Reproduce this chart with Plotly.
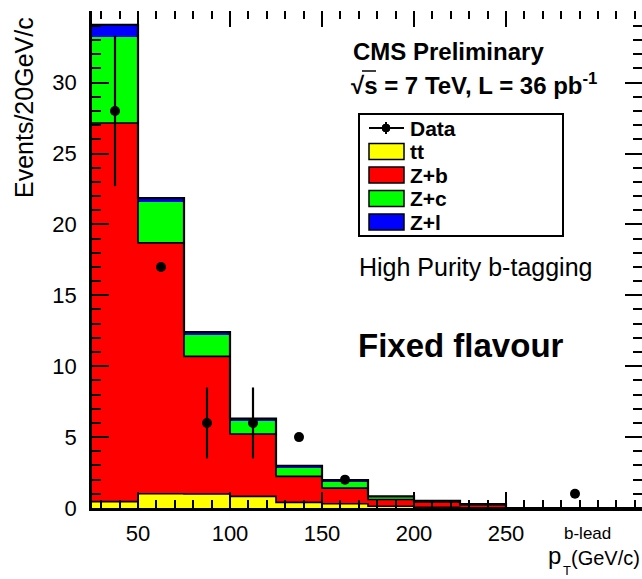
import plotly.graph_objects as go

# ---- histogram content: 12 bins of 25 GeV/c from 25 to 325 ----
bin_edges = [25, 50, 75, 100, 125, 150, 175, 200, 225, 250, 275, 300, 325]
tt_vals = [0.45, 1.00, 0.99, 0.82, 0.40, 0.30, 0.12, 0.05, 0.02, 0, 0, 0]
zb_vals = [26.7, 17.7, 9.70, 4.40, 1.83, 1.10, 0.48, 0.38, 0.22, 0, 0, 0]
zc_vals = [6.05, 2.86, 1.53, 0.93, 0.62, 0.47, 0.20, 0.05, 0.02, 0, 0, 0]
zl_vals = [0.88, 0.30, 0.19, 0.15, 0.13, 0.10, 0.02, 0.02, 0.01, 0, 0, 0]
data_vals = [28, 17, 6, 6, 5, 2, 0, 0, 0, 0, 1, 0]
data_errs = [5.3, 0, 2.5, 2.5, 0, 0, 0, 0, 0, 0, 0, 0]

component_names = ["tt", "Z+b", "Z+c", "Z+l"]
component_colors = ["#ffff00", "#ff0000", "#00ff00", "#0000ff"]
component_vals = [tt_vals, zb_vals, zc_vals, zl_vals]

x_tick_vals = [50, 100, 150, 200, 250]
x_tick_text = ["50", "100", "150", "200", "250"]

# ---- page geometry (pixels) ----
W, H = 642, 579
L, R, T, B = 92, 0, 11, 71
PX_PER_GEV = 1.84
PX_PER_EVT = 14.18
plot_w = W - L - R
plot_h = H - T - B
x_range = [25, 25 + plot_w / PX_PER_GEV]
y_range = [0, plot_h / PX_PER_EVT]


def px_x(p):
    return (p - L) / plot_w


def px_y(p):
    return (H - B - p) / plot_h


centers = [(a + b) / 2 for a, b in zip(bin_edges[:-1], bin_edges[1:])]
widths = [b - a for a, b in zip(bin_edges[:-1], bin_edges[1:])]

fig = go.Figure()

# stacked simulation
for name, color, vals in zip(component_names, component_colors, component_vals):
    fig.add_trace(go.Bar(x=centers, y=vals, width=widths, name=name,
                         marker=dict(color=color, line=dict(width=0)),
                         showlegend=False))

# black outlines: tt, tt+Z+b and the total
cum_ttzb = [a + b for a, b in zip(tt_vals, zb_vals)]
total = [a + b + c + d for a, b, c, d in zip(tt_vals, zb_vals, zc_vals, zl_vals)]
for vals, w in [(tt_vals, 1.6), (cum_ttzb, 1.6), (total, 2.2)]:
    fig.add_trace(go.Scatter(x=bin_edges, y=vals + [vals[-1]], mode="lines",
                             line=dict(color="black", width=w, shape="hv"),
                             showlegend=False, hoverinfo="skip"))

# data points (empty bins are not drawn)
dx = [c for c, v in zip(centers, data_vals) if v > 0]
dy = [v for v in data_vals if v > 0]
de = [e for e, v in zip(data_errs, data_vals) if v > 0]
fig.add_trace(go.Scatter(x=dx, y=dy, mode="markers",
                         marker=dict(color="black", size=10),
                         error_y=dict(type="data", array=de, visible=True,
                                      color="black", thickness=2.2, width=0),
                         showlegend=False))

# companion axes carrying the top and right tick marks
fig.add_trace(go.Scatter(x=[], y=[], xaxis="x2", yaxis="y2",
                         showlegend=False, hoverinfo="skip"))

font_family = "Liberation Sans, Arial, Helvetica, sans-serif"

fig.update_layout(
    width=W, height=H,
    margin=dict(l=L, r=R, t=T, b=B),
    paper_bgcolor="white", plot_bgcolor="white",
    barmode="stack", bargap=0,
    font=dict(family=font_family, color="black", size=22),
    xaxis=dict(range=x_range, tickmode="array", tickvals=x_tick_vals,
               ticktext=x_tick_text, ticks="inside", ticklen=16, tickwidth=2,
               tickcolor="black", showline=True, linecolor="black", linewidth=2.5,
               showgrid=False, zeroline=False, ticklabelstandoff=4,
               tickfont=dict(size=22),
               minor=dict(ticks="inside", dtick=10, tick0=0, ticklen=8,
                          tickwidth=2, tickcolor="black", showgrid=False)),
    yaxis=dict(range=y_range, dtick=5, tick0=0, ticks="inside", ticklen=17,
               tickwidth=2, tickcolor="black", showline=True, linecolor="black",
               linewidth=2.5, showgrid=False, zeroline=False,
               ticklabelstandoff=8, tickfont=dict(size=22),
               minor=dict(ticks="inside", dtick=1, tick0=0, ticklen=9,
                          tickwidth=2, tickcolor="black", showgrid=False)),
    xaxis2=dict(range=x_range, overlaying="x", side="top", tickmode="array",
                tickvals=x_tick_vals, ticks="inside", ticklen=16, tickwidth=2,
                tickcolor="black", showticklabels=False, showline=False,
                showgrid=False, zeroline=False,
                minor=dict(ticks="inside", dtick=10, tick0=0, ticklen=8,
                           tickwidth=2, tickcolor="black", showgrid=False)),
    yaxis2=dict(range=y_range, overlaying="y", side="right", dtick=5, tick0=0,
                ticks="inside", ticklen=17, tickwidth=2, tickcolor="black",
                showticklabels=False, showline=False, showgrid=False,
                zeroline=False,
                minor=dict(ticks="inside", dtick=1, tick0=0, ticklen=9,
                           tickwidth=2, tickcolor="black", showgrid=False)),
)

shapes = []
annotations = []


def text(x, y, s, size, bold=False, xanchor="left", yanchor="middle", angle=0):
    annotations.append(dict(
        x=px_x(x), y=px_y(y), xref="paper", yref="paper", text=s,
        showarrow=False, xanchor=xanchor, yanchor=yanchor, textangle=angle,
        borderpad=0,
        font=dict(size=size, family=font_family, color="black",
                  weight="bold" if bold else "normal")))


# header texts
text(352, 52, "CMS Preliminary", 24, bold=True)
text(350, 84, "\u221as = 7 TeV, L = 36 pb<sup>-1</sup>", 24, bold=True)
shapes.append(dict(type="line", xref="paper", yref="paper",
                   x0=px_x(362), x1=px_x(376), y0=px_y(71), y1=px_y(71),
                   line=dict(color="black", width=1.5)))
text(358, 267, "High Purity b-tagging", 25)
text(357, 345, "Fixed flavour", 33, bold=True)

# legend box
shapes.append(dict(type="rect", xref="paper", yref="paper",
                   x0=px_x(359), x1=px_x(563), y0=px_y(114), y1=px_y(236),
                   line=dict(color="black", width=2), fillcolor="white", layer="above"))
row_y = [128, 151.5, 175, 198.5, 222]
# data entry
shapes.append(dict(type="line", xref="paper", yref="paper",
                   x0=px_x(369), x1=px_x(404), y0=px_y(row_y[0]), y1=px_y(row_y[0]),
                   line=dict(color="black", width=2), layer="above"))
shapes.append(dict(type="line", xref="paper", yref="paper",
                   x0=px_x(386), x1=px_x(386), y0=px_y(row_y[0] - 6),
                   y1=px_y(row_y[0] + 6), line=dict(color="black", width=2),
                   layer="above"))
shapes.append(dict(type="circle", xref="paper", yref="paper",
                   x0=px_x(382), x1=px_x(390), y0=px_y(row_y[0] - 4),
                   y1=px_y(row_y[0] + 4), fillcolor="black",
                   line=dict(color="black", width=1), layer="above"))
text(409, row_y[0], "Data", 21, bold=True)
for ry, name, color in zip(row_y[1:], component_names, component_colors):
    shapes.append(dict(type="rect", xref="paper", yref="paper",
                       x0=px_x(369), x1=px_x(404), y0=px_y(ry - 8), y1=px_y(ry + 8),
                       fillcolor=color, line=dict(color="black", width=1.5),
                       layer="above"))
    text(409, ry, name, 21, bold=True)

# axis titles
text(24, 108, "Events/20GeV/c", 25, xanchor="center", yanchor="middle", angle=-90)
text(547, 555, "p", 24, xanchor="left", yanchor="middle")
text(563, 533, "b-lead", 17, xanchor="left", yanchor="middle")
text(562, 570, "T", 13, xanchor="left", yanchor="middle")
text(641, 558, "(GeV/c)", 20, xanchor="right", yanchor="middle")

fig.update_layout(shapes=shapes, annotations=annotations)

fig.write_html("out.html")
